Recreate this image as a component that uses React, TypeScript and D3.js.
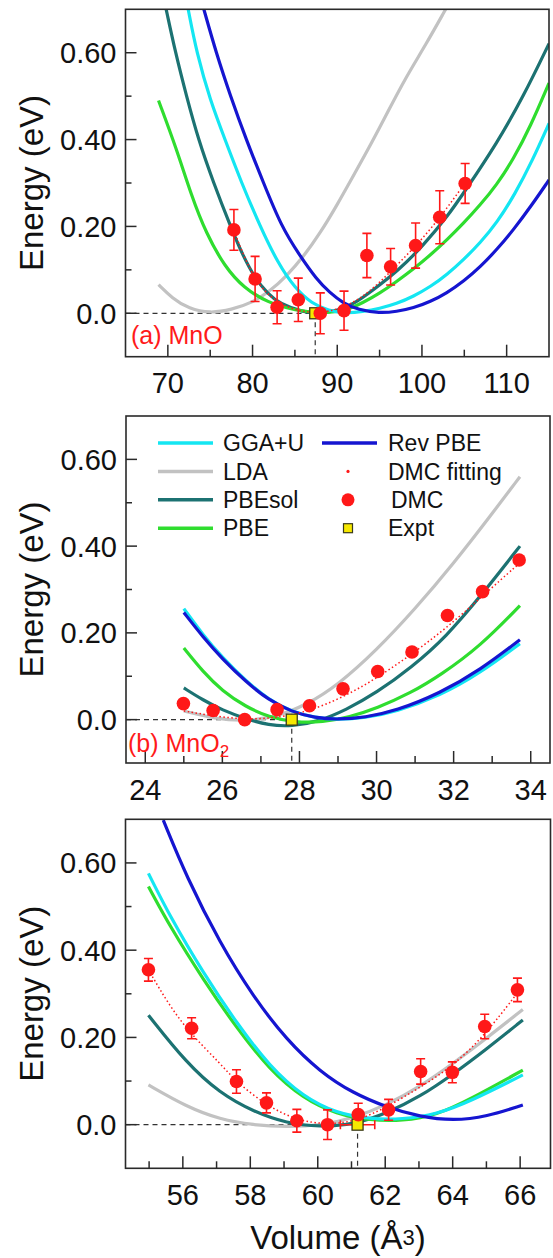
import React from 'react';
import * as d3 from 'd3';

type Pt = [number, number];

// ---------- (a) MnO ----------
const mnoGGAU: Pt[] = [[72.4, 0.70], [73.4, 0.60], [75, 0.49], [76.75, 0.40], [78.7, 0.30], [80.9, 0.20], [83, 0.115], [85, 0.058], [87, 0.022], [89, 0.006], [91, 0], [93, 0.004], [95, 0.011], [97, 0.022], [99, 0.039], [101, 0.061], [103, 0.09], [104.9, 0.123], [106.9, 0.163], [108.8, 0.207], [111, 0.275], [113, 0.35], [115, 0.437]];
const mnoLDA: Pt[] = [[68.9, 0.066], [70.5, 0.035], [72.5, 0.01], [75, 0], [77.5, 0.008], [80, 0.025], [82, 0.05], [84, 0.085], [86, 0.13], [88, 0.185], [90, 0.25], [92, 0.32], [94, 0.39], [96, 0.465], [98, 0.54], [100.5, 0.62], [102.8, 0.70]];
const mnoPBEsol: Pt[] = [[69.8, 0.70], [70.9, 0.60], [72.2, 0.50], [73.6, 0.40], [75.4, 0.30], [77.4, 0.20], [78.8, 0.135], [80.3, 0.08], [81.8, 0.045], [83.2, 0.022], [86, 0.002], [88, 0], [90, 0.006], [92, 0.022], [94, 0.05], [97.3, 0.10], [100.1, 0.155], [103.1, 0.225], [105.2, 0.285], [108.8, 0.39], [112, 0.5], [115, 0.621]];
const mnoPBE: Pt[] = [[68.9, 0.49], [71, 0.38], [72.8, 0.27], [74.5, 0.185], [76.75, 0.106], [79, 0.058], [81.75, 0.025], [85, 0.006], [88.5, 0], [91, 0.006], [93.1, 0.025], [95, 0.046], [97, 0.073], [99, 0.102], [101, 0.134], [103, 0.17], [104.9, 0.207], [106.9, 0.25], [108.8, 0.295], [110.8, 0.355], [112.8, 0.43], [115, 0.53]];
const mnoRevPBE: Pt[] = [[74.25, 0.70], [75.7, 0.60], [77.4, 0.50], [79.25, 0.40], [81.3, 0.30], [83.4, 0.20], [85.5, 0.135], [87.6, 0.077], [89.1, 0.048], [90.7, 0.023], [92.5, 0.008], [95, 0], [97, 0.004], [99, 0.012], [101, 0.027], [102.9, 0.046], [105, 0.075], [106.9, 0.107], [108.9, 0.148], [110.8, 0.192], [113, 0.25], [115, 0.307]];
const mnoFit: Pt[] = [[77.8, 0.19], [79, 0.13], [80.5, 0.07], [82.5, 0.03], [85, 0.006], [87.6, 0], [90, 0.008], [92.5, 0.03], [95, 0.07], [97.5, 0.12], [100, 0.17], [102.5, 0.23], [105.1, 0.30]];
const mnoDmcV = [77.8, 80.3, 82.9, 85.4, 88.0, 90.8, 93.5, 96.3, 99.25, 102.1, 105.1];
const mnoDmcE = [0.192, 0.079, 0.014, 0.031, 0.0, 0.006, 0.133, 0.107, 0.156, 0.221, 0.299];
const mnoDmcErr = [0.047, 0.052, 0.038, 0.05, 0.047, 0.045, 0.051, 0.042, 0.052, 0.061, 0.046];
const mnoExpt = 87.4;

// ---------- (b) MnO2 ----------
const mno2GGAU: Pt[] = [[25, 0.256], [25.5, 0.195], [26, 0.143], [26.6, 0.09], [27.2, 0.046], [27.8, 0.018], [28.4, 0.004], [29, 0], [29.7, 0.004], [30.5, 0.018], [31.65, 0.055], [32.7, 0.108], [33.72, 0.175]];
const mno2LDA: Pt[] = [[25, 0.02], [25.8, 0.002], [26.6, -0.004], [27.4, 0.006], [28.2, 0.035], [29, 0.08], [30, 0.16], [31, 0.255], [32, 0.36], [33, 0.475], [33.72, 0.56]];
const mno2PBEsol: Pt[] = [[25, 0.073], [25.5, 0.045], [26, 0.022], [26.6, 0.002], [27.2, -0.013], [27.8, -0.016], [28.5, -0.004], [29.2, 0.022], [30, 0.062], [30.9, 0.12], [31.8, 0.19], [32.75, 0.29], [33.72, 0.40]];
const mno2PBE: Pt[] = [[25, 0.165], [25.5, 0.11], [26, 0.066], [26.6, 0.03], [27.2, 0.006], [27.9, -0.007], [28.6, -0.006], [29.3, 0.006], [30, 0.026], [30.9, 0.062], [31.65, 0.102], [32.7, 0.17], [33.72, 0.263]];
const mno2RevPBE: Pt[] = [[25, 0.247], [25.5, 0.19], [26, 0.14], [26.6, 0.088], [27.2, 0.045], [27.8, 0.018], [28.4, 0.004], [29, 0], [29.7, 0.005], [30.5, 0.02], [31.65, 0.061], [32.7, 0.115], [33.72, 0.184]];
const mno2Fit: Pt[] = [[25, 0.02], [25.8, 0.008], [26.6, 0.0], [27.4, 0.004], [28.2, 0.018], [29.1, 0.05], [30, 0.095], [30.9, 0.15], [31.8, 0.21], [32.75, 0.285], [33.7, 0.36]];
const mno2DmcV = [24.99, 25.76, 26.58, 27.42, 28.26, 29.13, 30.03, 30.92, 31.84, 32.75, 33.7];
const mno2DmcE = [0.037, 0.021, 0.0, 0.023, 0.032, 0.071, 0.111, 0.156, 0.24, 0.295, 0.368];
const mno2Expt = 27.8;

// ---------- (c) third oxide ----------
const cGGAU: Pt[] = [[54.98, 0.576], [55.62, 0.477], [56.61, 0.347], [57.6, 0.232], [58.58, 0.133], [59.57, 0.064], [60.56, 0.026], [61.55, 0.013], [62.5, 0.012], [63.53, 0.024], [64.51, 0.053], [66.08, 0.114]];
const cLDA: Pt[] = [[54.98, 0.091], [56.11, 0.041], [57.1, 0.012], [58.09, -0.001], [59.08, -0.005], [60.07, -0.002], [61.05, 0.015], [62.04, 0.045], [63.03, 0.087], [64.02, 0.141], [65.0, 0.198], [66.08, 0.264]];
const cPBEsol: Pt[] = [[54.98, 0.251], [56.11, 0.141], [57.1, 0.072], [58.09, 0.03], [59.08, 0.003], [60.07, -0.005], [61.05, 0.0], [62.04, 0.026], [63.03, 0.064], [64.02, 0.116], [65.0, 0.173], [66.08, 0.24]];
const cPBE: Pt[] = [[54.98, 0.546], [55.62, 0.454], [56.61, 0.332], [57.6, 0.221], [58.58, 0.125], [59.57, 0.06], [60.56, 0.024], [61.55, 0.01], [62.5, 0.008], [63.53, 0.022], [64.51, 0.058], [66.08, 0.125]];
const cRevPBE: Pt[] = [[55.42, 0.698], [56.11, 0.568], [57.1, 0.416], [58.09, 0.293], [59.08, 0.194], [60.07, 0.121], [61.05, 0.072], [62.04, 0.04], [63.03, 0.018], [64.02, 0.009], [65.0, 0.018], [66.08, 0.045]];
const cFit: Pt[] = [[54.98, 0.355], [55.62, 0.27], [56.27, 0.205], [57.1, 0.141], [57.6, 0.097], [58.5, 0.043], [59.38, 0.01], [60.27, 0.0], [61.16, 0.008], [62.04, 0.04], [63.03, 0.085], [64.02, 0.135], [64.95, 0.205], [65.9, 0.3]];
const cDmcV = [54.98, 56.26, 57.59, 58.48, 59.38, 60.29, 61.2, 62.1, 63.05, 63.99, 64.95, 65.92];
const cDmcE = [0.355, 0.221, 0.099, 0.05, 0.009, 0.0, 0.023, 0.034, 0.122, 0.12, 0.225, 0.309];
const cDmcErr = [0.026, 0.024, 0.027, 0.023, 0.026, 0.034, 0.026, 0.024, 0.029, 0.024, 0.028, 0.027];
const cExpt = 61.18;
const cExptErr = 0.51;

const yMajor = [0, 0.2, 0.4, 0.6];
const yMinor = [0.1, 0.3, 0.5];
const yLabels = ['0.0', '0.20', '0.40', '0.60'];

const legendLines = [
  { name: 'GGA+U', key: 'ggau' },
  { name: 'LDA', key: 'lda' },
  { name: 'PBEsol', key: 'pbesol' },
  { name: 'PBE', key: 'pbe' },
];

const COL: Record<string, string> = {
  ggau: '#14e6f2',
  lda: '#c2c2c2',
  pbesol: '#1c7272',
  pbe: '#2fdd2f',
  revpbe: '#1515d0',
  dmc: '#ff1818',
};

const FONT = '"Liberation Sans", Arial, Helvetica, sans-serif';

type PanelProps = {
  id: string;
  left: number; right: number; top: number; bottom: number;
  xDomain: [number, number];
  xMajor: number[];
  xMinor: number[];
  xLabelY: number;
  curves: { key: string; pts: Pt[] }[];
  fit: Pt[];
  dmcV: number[];
  dmcE: number[];
  dmcErr?: number[];
  expt: number;
  exptErr?: number;
  label?: React.ReactNode;
  legend?: boolean;
};

function Panel(p: PanelProps) {
  const x = d3.scaleLinear().domain(p.xDomain).range([p.left, p.right]);
  const y = d3.scaleLinear().domain([-0.1, 0.7]).range([p.bottom, p.top]);
  const line = d3.line<Pt>().x(d => x(d[0])).y(d => y(d[1])).curve(d3.curveBasis);
  const cx = (p.top + p.bottom) / 2;
  const ax = '#2a2a2a';
  return (
    <g>
      <defs>
        <clipPath id={'clip-' + p.id}>
          <rect x={p.left} y={p.top} width={p.right - p.left} height={p.bottom - p.top} />
        </clipPath>
      </defs>
      {/* dashed guide lines at the experimental volume */}
      <line x1={p.left} x2={x(p.expt)} y1={y(0)} y2={y(0)} stroke="#333" strokeWidth={1.2} strokeDasharray="5,4" />
      <line x1={x(p.expt)} x2={x(p.expt)} y1={y(0)} y2={p.bottom} stroke="#333" strokeWidth={1.2} strokeDasharray="5,4" />
      <g clipPath={`url(#clip-${p.id})`}>
        {p.curves.map(c => (
          <path key={c.key} d={line(c.pts) || ''} fill="none" stroke={COL[c.key]} strokeWidth={3.2} />
        ))}
        <path d={line(p.fit) || ''} fill="none" stroke={COL.dmc} strokeWidth={1.5} strokeDasharray="1.5,2.5" />
        {p.dmcErr && p.dmcV.map((v, i) => (
          <g key={'e' + i} stroke={COL.dmc} strokeWidth={1.6}>
            <line x1={x(v)} x2={x(v)} y1={y(p.dmcE[i] - p.dmcErr![i])} y2={y(p.dmcE[i] + p.dmcErr![i])} />
            <line x1={x(v) - 4.5} x2={x(v) + 4.5} y1={y(p.dmcE[i] - p.dmcErr![i])} y2={y(p.dmcE[i] - p.dmcErr![i])} />
            <line x1={x(v) - 4.5} x2={x(v) + 4.5} y1={y(p.dmcE[i] + p.dmcErr![i])} y2={y(p.dmcE[i] + p.dmcErr![i])} />
          </g>
        ))}
        {p.exptErr && (
          <g stroke={COL.dmc} strokeWidth={1.6}>
            <line x1={x(p.expt - p.exptErr)} x2={x(p.expt + p.exptErr)} y1={y(0)} y2={y(0)} />
            <line x1={x(p.expt - p.exptErr)} x2={x(p.expt - p.exptErr)} y1={y(0) - 4.5} y2={y(0) + 4.5} />
            <line x1={x(p.expt + p.exptErr)} x2={x(p.expt + p.exptErr)} y1={y(0) - 4.5} y2={y(0) + 4.5} />
          </g>
        )}
        <rect x={x(p.expt) - 5.5} y={y(0) - 5.5} width={11} height={11} fill="#f6e800" stroke="#3a3a1a" strokeWidth={1.3} />
        {p.dmcV.map((v, i) => (
          <circle key={'d' + i} cx={x(v)} cy={y(p.dmcE[i])} r={6.8} fill={COL.dmc} />
        ))}
      </g>
      {/* frame */}
      <rect x={p.left} y={p.top} width={p.right - p.left} height={p.bottom - p.top} fill="none" stroke={ax} strokeWidth={1.6} />
      {yMajor.map((v, i) => (
        <g key={'ym' + i}>
          <line x1={p.left} x2={p.left + 11} y1={y(v)} y2={y(v)} stroke={ax} strokeWidth={1.5} />
          <text x={p.left - 9} y={y(v)} dy="0.36em" textAnchor="end" fontSize={29} fontFamily={FONT} fill="#111">{yLabels[i]}</text>
        </g>
      ))}
      {yMinor.map((v, i) => (
        <line key={'yn' + i} x1={p.left} x2={p.left + 6} y1={y(v)} y2={y(v)} stroke={ax} strokeWidth={1.5} />
      ))}
      {p.xMajor.map((v, i) => (
        <g key={'xm' + i}>
          <line x1={x(v)} x2={x(v)} y1={p.bottom} y2={p.bottom - 12} stroke={ax} strokeWidth={1.5} />
          <text x={x(v)} y={p.xLabelY} textAnchor="middle" fontSize={29} fontFamily={FONT} fill="#111">{v}</text>
        </g>
      ))}
      {p.xMinor.map((v, i) => (
        <line key={'xn' + i} x1={x(v)} x2={x(v)} y1={p.bottom} y2={p.bottom - 7} stroke={ax} strokeWidth={1.5} />
      ))}
      <text transform={`translate(43,${cx}) rotate(-90)`} textAnchor="middle" fontSize={33} fontFamily={FONT} fill="#111">Energy (eV)</text>
      {p.label}
      {p.legend && (
        <g fontFamily={FONT} fontSize={23} fill="#111">
          {legendLines.map((l, i) => (
            <g key={l.key}>
              <line x1={158} x2={213} y1={443 + i * 28.4} y2={443 + i * 28.4} stroke={COL[l.key]} strokeWidth={3.5} />
              <text x={223} y={443 + i * 28.4} dy="0.36em">{l.name}</text>
            </g>
          ))}
          <line x1={322} x2={377} y1={443} y2={443} stroke={COL.revpbe} strokeWidth={3.5} />
          <text x={388} y={443} dy="0.36em">Rev PBE</text>
          <circle cx={348} cy={471.4} r={1.6} fill={COL.dmc} />
          <text x={388} y={471.4} dy="0.36em">DMC fitting</text>
          <circle cx={348} cy={499.8} r={6.5} fill={COL.dmc} />
          <text x={391} y={499.8} dy="0.36em">DMC</text>
          <rect x={343.5} y={523.7} width={9} height={9} fill="#f6e800" stroke="#3a3a1a" strokeWidth={1.2} />
          <text x={388} y={528.2} dy="0.36em">Expt</text>
        </g>
      )}
    </g>
  );
}

export default function App() {
  const order = ['lda', 'pbesol', 'pbe', 'ggau', 'revpbe'];
  const mk = (m: Record<string, Pt[]>) => order.map(k => ({ key: k, pts: m[k] }));
  return (
    <svg width={553} height={1258} style={{ position: 'absolute', left: 0, top: 0, background: '#fff' }}>
      <Panel
        id="a" left={125.5} right={549} top={9.3} bottom={356.7}
        xDomain={[65, 115]} xMajor={[70, 80, 90, 100, 110]} xMinor={[75, 85, 95, 105]} xLabelY={393}
        curves={mk({ ggau: mnoGGAU, lda: mnoLDA, pbesol: mnoPBEsol, pbe: mnoPBE, revpbe: mnoRevPBE })}
        fit={mnoFit} dmcV={mnoDmcV} dmcE={mnoDmcE} dmcErr={mnoDmcErr} expt={mnoExpt}
        label={<text x={131} y={344} fontSize={25} fontFamily={FONT} fill="#ff1a1a">(a) MnO</text>}
      />
      <Panel
        id="b" left={126} right={550} top={416} bottom={763}
        xDomain={[23.5, 34.5]} xMajor={[24, 26, 28, 30, 32, 34]} xMinor={[25, 27, 29, 31, 33]} xLabelY={800}
        curves={mk({ ggau: mno2GGAU, lda: mno2LDA, pbesol: mno2PBEsol, pbe: mno2PBE, revpbe: mno2RevPBE })}
        fit={mno2Fit} dmcV={mno2DmcV} dmcE={mno2DmcE} expt={mno2Expt}
        legend
        label={<text x={128} y={752} fontSize={25} fontFamily={FONT} fill="#ff1a1a">(b) MnO<tspan fontSize={17} dy={5}>2</tspan></text>}
      />
      <Panel
        id="c" left={125.5} right={550.5} top={819.3} bottom={1168.3}
        xDomain={[54.3, 66.9]} xMajor={[56, 58, 60, 62, 64, 66]} xMinor={[55, 57, 59, 61, 63, 65]} xLabelY={1205}
        curves={mk({ ggau: cGGAU, lda: cLDA, pbesol: cPBEsol, pbe: cPBE, revpbe: cRevPBE })}
        fit={cFit} dmcV={cDmcV} dmcE={cDmcE} dmcErr={cDmcErr} expt={cExpt} exptErr={cExptErr}
      />
      <text x={338} y={1249} textAnchor="middle" fontSize={33} fontFamily={FONT} fill="#111">
        Volume (Å<tspan fontSize={22} dy={-4}>3</tspan><tspan dy={4}>)</tspan>
      </text>
    </svg>
  );
}
